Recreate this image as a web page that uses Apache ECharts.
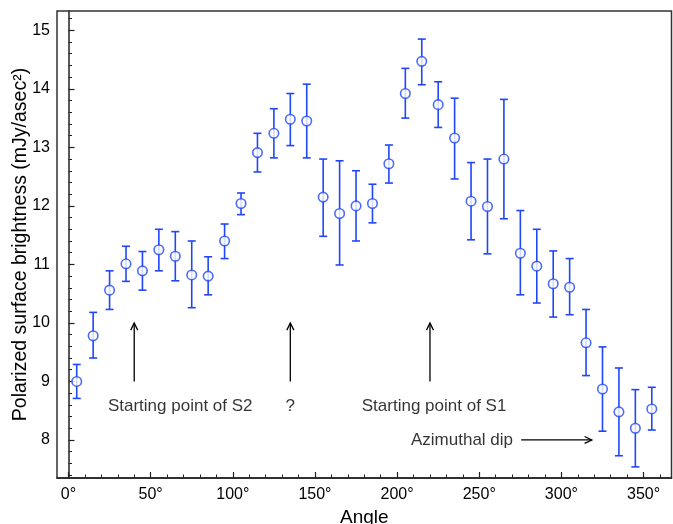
<!DOCTYPE html>
<html>
<head>
<meta charset="utf-8">
<script src="https://cdn.jsdelivr.net/npm/echarts@6/dist/echarts.min.js"></script>
<style>
html,body{margin:0;padding:0;background:#fff;}
#chart{width:673px;height:524px;}
</style>
</head>
<body>
<div id="chart"></div>
<script>
// angle of each bin (deg)
const angles = [5,15,25,35,45,55,65,75,85,95,105,115,125,135,145,155,165,175,185,195,205,215,225,235,245,255,265,275,285,295,305,315,325,335,345,355]
// brightness and error bar ends (mJy/asec^2)
const values = [9.00,9.78,10.56,11.01,10.89,11.25,11.14,10.82,10.80,11.40,12.04,12.91,13.24,13.48,13.45,12.15,11.87,12.00,12.04,12.72,13.92,14.47,13.73,13.16,12.08,11.99,12.80,11.19,10.97,10.67,10.61,9.66,8.87,8.48,8.20,8.53]
const upper = [9.29,10.18,10.89,11.31,11.22,11.60,11.56,11.40,11.13,11.69,12.22,13.24,13.66,13.92,14.08,12.80,12.77,12.60,12.37,13.04,14.35,14.85,14.12,13.84,12.74,12.80,13.82,11.92,11.60,11.23,11.10,10.23,9.59,9.23,8.86,8.90]
const lower = [8.71,9.40,10.23,10.71,10.56,10.89,10.72,10.26,10.48,11.10,11.85,12.58,12.82,13.03,12.82,11.48,10.99,11.40,11.71,12.39,13.50,14.07,13.34,12.46,11.42,11.18,11.78,10.48,10.34,10.10,10.14,9.10,8.15,7.73,7.54,8.17]

const xMajor = [0,50,100,150,200,250,300,350]
const xMinor = [10,20,30,40,60,70,80,90,110,120,130,140,160,170,180,190,210,220,230,240,260,270,280,290,310,320,330,340,360]
const yMajor = [8,9,10,11,12,13,14,15]
const yMinor = [7.4,7.6,7.8,8.2,8.4,8.6,8.8,9.2,9.4,9.6,9.8,10.2,10.4,10.6,10.8,11.2,11.4,11.6,11.8,12.2,12.4,12.6,12.8,13.2,13.4,13.6,13.8,14.2,14.4,14.6,14.8,15.2]

// annotations: arrows [x0,y0,x1,y1] and texts [x,y,text]
const arrows = [[40,9.0,40,10.0],[135,9.0,135,10.0],[220,9.0,220,10.0],[275.5,8.0,318.5,8.0]]
const notes = [[68,8.58,'Starting point of S2'],[135,8.58,'?'],[222.5,8.58,'Starting point of S1'],[239.5,8.0,'Azimuthal dip']]

const blue = '#2046fa'
const font = "'Liberation Sans', Arial, sans-serif"

const chart = echarts.init(document.getElementById('chart'))

const axisLine = {show:true, lineStyle:{color:'#222', width:1.5}}

const option = {
  animation:false,
  grid:{left:57, right:1.5, top:11, bottom:46, outerBoundsMode:'none', containLabel:false,
        show:true, borderColor:'#333', borderWidth:1.5},
  xAxis:[{
    type:'value', min:-7, max:367,
    axisLine:axisLine,
    splitLine:{show:false},
    axisTick:{show:true, inside:true, length:6, customValues:xMajor, lineStyle:{color:'#222', width:1.2}},
    axisLabel:{customValues:xMajor, formatter:v=>v+'°', fontSize:16, color:'#000', fontFamily:font, margin:9},
    name:'Angle', nameLocation:'middle', nameGap:30, nameMoveOverlap:false,
    nameTextStyle:{fontSize:19, color:'#000', fontFamily:font}
  },{
    type:'value', min:-7, max:367, position:'bottom',
    axisLine:{show:false}, splitLine:{show:false},
    axisTick:{show:true, inside:true, length:3.5, customValues:xMinor, lineStyle:{color:'#222', width:1}},
    axisLabel:{show:false}
  }],
  yAxis:[{
    type:'value', min:7.35, max:15.33,
    axisLine:axisLine,
    splitLine:{show:false},
    axisTick:{show:true, inside:true, length:6, customValues:yMajor, lineStyle:{color:'#222', width:1.2}},
    axisLabel:{customValues:yMajor, fontSize:16, color:'#000', fontFamily:font, margin:7},
    name:'Polarized surface brightness (mJy/asec²)', nameLocation:'middle', nameGap:26, nameMoveOverlap:false,
    nameTextStyle:{fontSize:19.5, color:'#000', fontFamily:font}
  },{
    type:'value', min:7.35, max:15.33, position:'left',
    axisLine:{show:false}, splitLine:{show:false},
    axisTick:{show:true, inside:true, length:3.5, customValues:yMinor, lineStyle:{color:'#222', width:1}},
    axisLabel:{show:false}
  }],
  series:[{
    type:'custom',
    xAxisIndex:0, yAxisIndex:0,
    data:angles.map((a,i)=>[a,lower[i],upper[i]]),
    renderItem:function(params, api){
      const top = api.coord([api.value(0), api.value(2)])
      const bot = api.coord([api.value(0), api.value(1)])
      const cap = 4
      const st = {stroke:blue, lineWidth:1.6}
      return {type:'group', children:[
        {type:'line', shape:{x1:top[0],y1:top[1],x2:bot[0],y2:bot[1]}, style:st},
        {type:'line', shape:{x1:top[0]-cap,y1:top[1],x2:top[0]+cap,y2:top[1]}, style:st},
        {type:'line', shape:{x1:bot[0]-cap,y1:bot[1],x2:bot[0]+cap,y2:bot[1]}, style:st}
      ]}
    },
    z:2
  },{
    type:'scatter',
    xAxisIndex:0, yAxisIndex:0,
    data:angles.map((a,i)=>[a,values[i]]),
    symbol:'circle', symbolSize:9.5,
    itemStyle:{color:'#fff', borderColor:blue, borderWidth:1.6},
    z:3
  },{
    type:'custom',
    xAxisIndex:0, yAxisIndex:0,
    data:arrows,
    renderItem:function(params, api){
      const p0 = api.coord([api.value(0), api.value(1)])
      const p1 = api.coord([api.value(2), api.value(3)])
      const ang = Math.atan2(p1[1]-p0[1], p1[0]-p0[0])
      const h = 8, w = 0.45
      const a1 = [p1[0]-h*Math.cos(ang-w), p1[1]-h*Math.sin(ang-w)]
      const a2 = [p1[0]-h*Math.cos(ang+w), p1[1]-h*Math.sin(ang+w)]
      const st = {stroke:'#000', lineWidth:1.3, fill:null}
      return {type:'group', children:[
        {type:'line', shape:{x1:p0[0],y1:p0[1],x2:p1[0],y2:p1[1]}, style:st},
        {type:'polyline', shape:{points:[a1,p1,a2]}, style:st}
      ]}
    },
    z:4
  },{
    type:'scatter',
    xAxisIndex:0, yAxisIndex:0,
    data:notes.map(n=>({value:[n[0],n[1]], name:n[2]})),
    symbolSize:0,
    label:{show:true, position:'inside', formatter:p=>p.name, fontSize:17, color:'#000',
           textBorderWidth:0, fontFamily:font},
    z:4
  }]
}
chart.setOption(option)
</script>
</body>
</html>
